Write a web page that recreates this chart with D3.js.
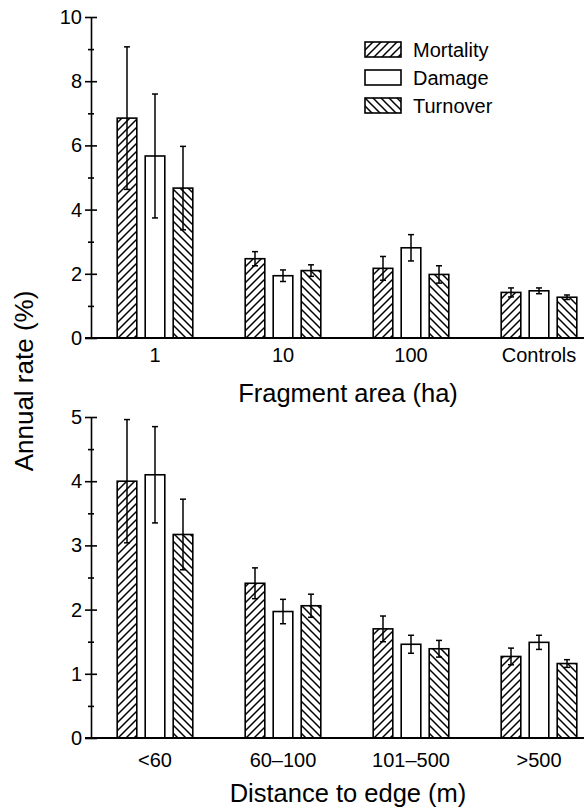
<!DOCTYPE html>
<html>
<head>
<meta charset="utf-8">
<script src="https://cdn.jsdelivr.net/npm/d3@7"></script>
<style>
    body { margin: 0; background: #fff; }
    svg { display: block; font-family: "Liberation Sans", Arial, sans-serif; }
</style>
</head>
<body>
<script>

// series and categories
const series = ["Mortality", "Damage", "Turnover"]
const areaCategories = ["1", "10", "100", "Controls"]
const edgeCategories = ["<60", "60\u2013100", "101\u2013500", ">500"]

// fragment area panel: mean and error (half length) per series
const areaMortality = [6.85, 2.47, 2.17, 1.42]
const areaMortalityErr = [2.22, 0.22, 0.37, 0.14]
const areaDamage = [5.67, 1.94, 2.81, 1.47]
const areaDamageErr = [1.93, 0.18, 0.41, 0.09]
const areaTurnover = [4.67, 2.1, 1.98, 1.27]
const areaTurnoverErr = [1.3, 0.18, 0.27, 0.07]

// distance to edge panel
const edgeMortality = [4.0, 2.41, 1.7, 1.27]
const edgeMortalityErr = [0.96, 0.24, 0.2, 0.13]
const edgeDamage = [4.1, 1.97, 1.46, 1.49]
const edgeDamageErr = [0.75, 0.19, 0.14, 0.11]
const edgeTurnover = [3.17, 2.06, 1.39, 1.16]
const edgeTurnoverErr = [0.55, 0.18, 0.13, 0.06]

// y axis ticks
const areaMajorTicks = [0, 2, 4, 6, 8, 10]
const areaMinorTicks = [1, 3, 5, 7, 9]
const edgeMajorTicks = [0, 1, 2, 3, 4, 5]
const edgeMinorTicks = [0.5, 1.5, 2.5, 3.5, 4.5]

const width = 584, height = 810
const axisX = 91
const strokeW = 1.6

const svg = d3.select("body").append("svg")
    .attr("width", width)
    .attr("height", height)

// hatch patterns
const defs = svg.append("defs")

defs.append("pattern")
    .attr("id", "hatchUp")
    .attr("patternUnits", "userSpaceOnUse")
    .attr("width", 8)
    .attr("height", 8)
    .append("path")
    .attr("d", "M-2,2 l4,-4 M0,8 l8,-8 M6,10 l4,-4")
    .attr("stroke", "#000")
    .attr("stroke-width", 1.5)

defs.append("pattern")
    .attr("id", "hatchDown")
    .attr("patternUnits", "userSpaceOnUse")
    .attr("width", 8)
    .attr("height", 8)
    .append("path")
    .attr("d", "M-2,6 l4,4 M0,0 l8,8 M6,-2 l4,4")
    .attr("stroke", "#000")
    .attr("stroke-width", 1.5)

const fillMap = {
    "Mortality": "url(#hatchUp)",
    "Damage": "#fff",
    "Turnover": "url(#hatchDown)"
}

function drawPanel(opts) {

    const g = svg.append("g")

    const x = d3.scaleBand()
        .domain(opts.categories)
        .range([axisX, axisX + 512])

    const xInner = d3.scaleBand()
        .domain(series)
        .range([0, 84])
        .paddingInner(0.3)
        .paddingOuter(0.15)

    const y = d3.scaleLinear()
        .domain([0, opts.max])
        .range([opts.bottom, opts.top])

    const rows = []
    opts.categories.forEach((cat, i) => {
        series.forEach((s, j) => {
            rows.push({cat: cat, series: s, value: opts.values[j][i], err: opts.errors[j][i]})
        })
    })

    const barX = (d) => x(d.cat) + x.bandwidth() / 2 - 42 + xInner(d.series)

    // bars
    g.selectAll("rect.bar")
        .data(rows)
        .join("rect")
        .attr("class", "bar")
        .attr("x", barX)
        .attr("y", (d) => y(d.value))
        .attr("width", xInner.bandwidth())
        .attr("height", (d) => y(0) - y(d.value))
        .attr("fill", (d) => fillMap[d.series])
        .attr("stroke", "#000")
        .attr("stroke-width", strokeW)

    // error bars
    const err = g.selectAll("g.err")
        .data(rows)
        .join("g")
        .attr("class", "err")
        .attr("transform", (d) => `translate(${barX(d) + xInner.bandwidth() / 2},0)`)
        .attr("stroke", "#000")
        .attr("stroke-width", 1.5)

    err.append("line")
        .attr("y1", (d) => y(d.value - d.err))
        .attr("y2", (d) => y(d.value + d.err))

    err.append("line")
        .attr("x1", -3).attr("x2", 3)
        .attr("y1", (d) => y(d.value + d.err))
        .attr("y2", (d) => y(d.value + d.err))

    err.append("line")
        .attr("x1", -3).attr("x2", 3)
        .attr("y1", (d) => y(d.value - d.err))
        .attr("y2", (d) => y(d.value - d.err))

    // x axis baseline
    g.append("line")
        .attr("x1", axisX - 6)
        .attr("x2", width)
        .attr("y1", y(0))
        .attr("y2", y(0))
        .attr("stroke", "#000")
        .attr("stroke-width", 2)

    // category labels
    g.selectAll("text.cat")
        .data(opts.categories)
        .join("text")
        .attr("class", "cat")
        .attr("x", (d) => x(d) + x.bandwidth() / 2)
        .attr("y", opts.catY)
        .attr("text-anchor", "middle")
        .attr("font-size", 20)
        .text((d) => d)

    // y axis, major ticks cross the line
    const yAxis = g.append("g")
        .attr("transform", `translate(${axisX},0)`)
        .call(d3.axisLeft(y).tickValues(opts.major).tickFormat(d3.format("d"))
            .tickSize(6).tickPadding(3).tickSizeOuter(0))

    yAxis.select(".domain").attr("stroke-width", strokeW)
    yAxis.selectAll(".tick line").attr("x1", 6).attr("stroke-width", strokeW)
    yAxis.selectAll(".tick text")
        .attr("font-size", 20)
        .attr("font-family", "Liberation Sans, Arial, sans-serif")
        .attr("fill", "#000")

    const yMinor = g.append("g")
        .attr("transform", `translate(${axisX},0)`)
        .call(d3.axisLeft(y).tickValues(opts.minor).tickSize(3).tickFormat(""))

    yMinor.select(".domain").remove()
    yMinor.selectAll(".tick line").attr("x1", 3).attr("stroke-width", strokeW)

    // axis title
    g.append("text")
        .attr("x", 348)
        .attr("y", opts.titleY)
        .attr("text-anchor", "middle")
        .attr("font-size", 25.5)
        .text(opts.title)

    return g
}

drawPanel({
    categories: areaCategories,
    values: [areaMortality, areaDamage, areaTurnover],
    errors: [areaMortalityErr, areaDamageErr, areaTurnoverErr],
    max: 10,
    top: 17,
    bottom: 338,
    major: areaMajorTicks,
    minor: areaMinorTicks,
    catY: 362,
    titleY: 402,
    title: "Fragment area (ha)"
})

drawPanel({
    categories: edgeCategories,
    values: [edgeMortality, edgeDamage, edgeTurnover],
    errors: [edgeMortalityErr, edgeDamageErr, edgeTurnoverErr],
    max: 5,
    top: 417,
    bottom: 738,
    major: edgeMajorTicks,
    minor: edgeMinorTicks,
    catY: 767,
    titleY: 802,
    title: "Distance to edge (m)"
})

// shared y title
svg.append("text")
    .attr("transform", "translate(33,381) rotate(-90)")
    .attr("text-anchor", "middle")
    .attr("font-size", 26)
    .text("Annual rate (%)")

// legend
const legend = svg.append("g")
    .attr("transform", "translate(365,42)")

const legendItem = legend.selectAll("g")
    .data(series)
    .join("g")
    .attr("transform", (d, i) => `translate(0,${i * 28})`)

legendItem.append("rect")
    .attr("width", 36)
    .attr("height", 15)
    .attr("fill", (d) => fillMap[d])
    .attr("stroke", "#000")
    .attr("stroke-width", strokeW)

legendItem.append("text")
    .attr("x", 48)
    .attr("y", 15)
    .attr("font-size", 20)
    .text((d) => d)

</script>
</body>
</html>
